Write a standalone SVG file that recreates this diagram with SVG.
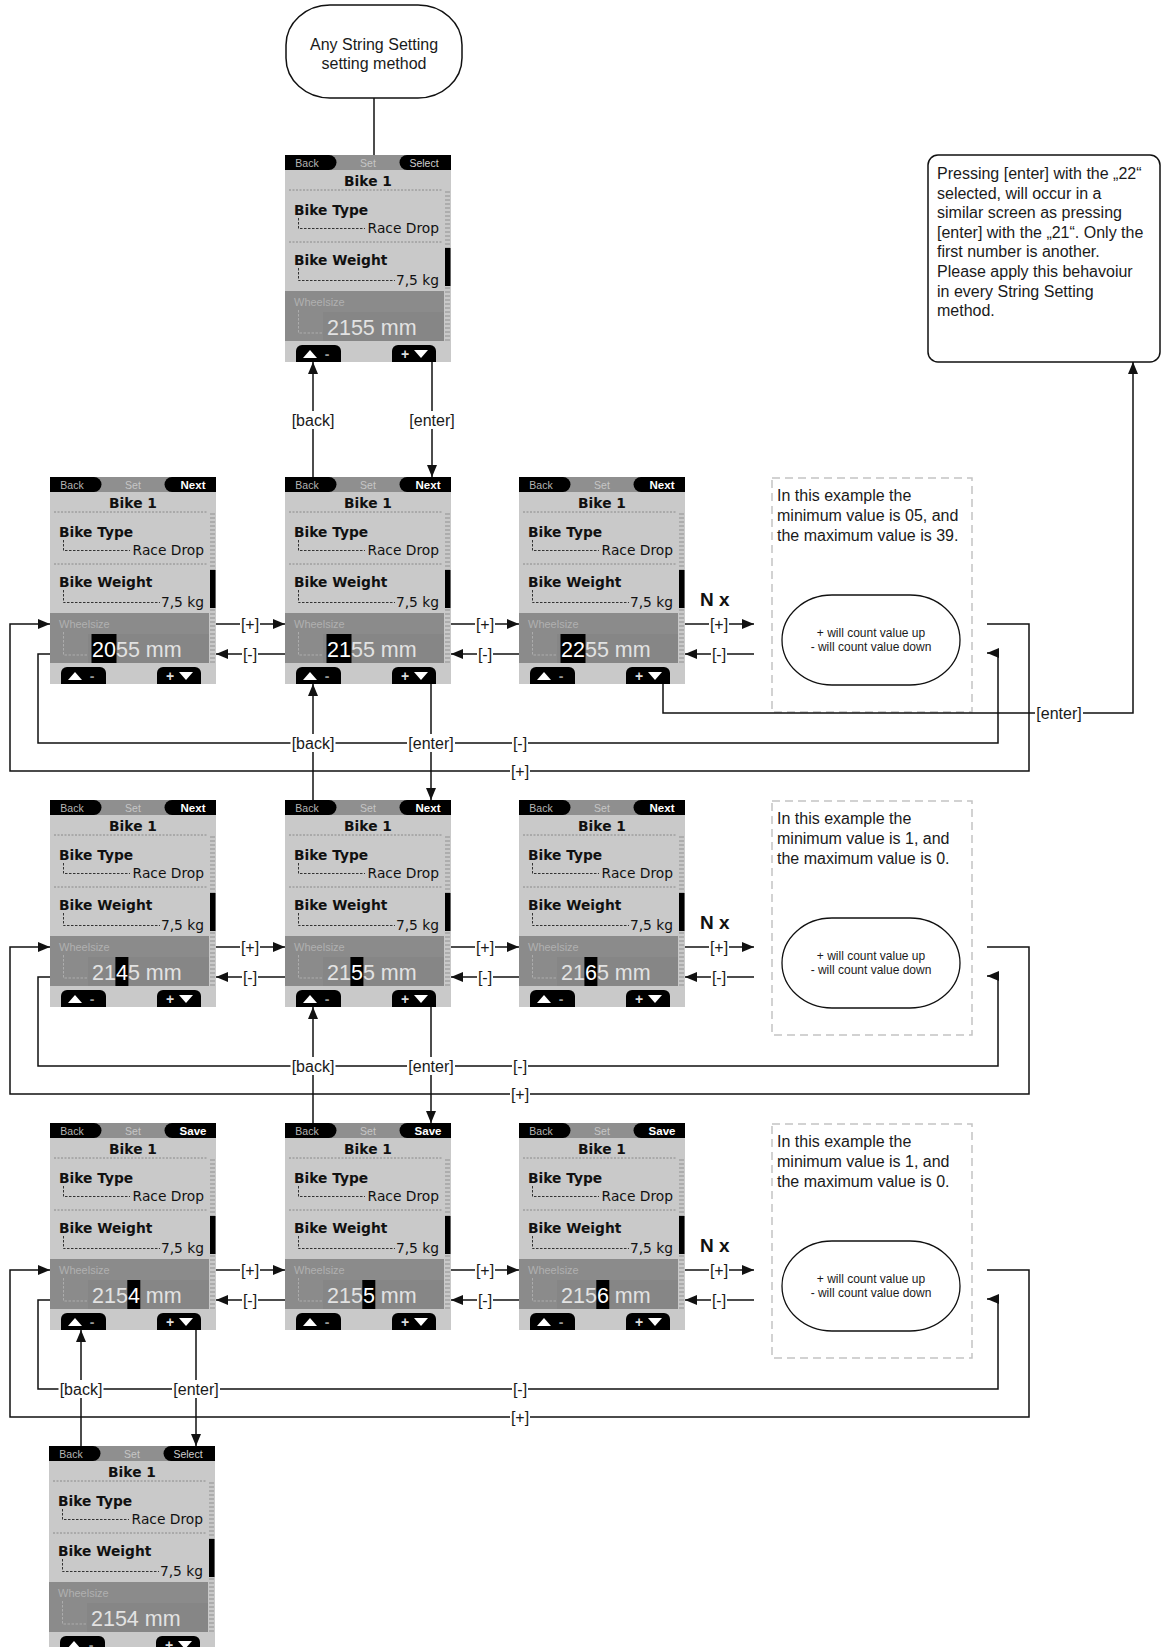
<svg xmlns="http://www.w3.org/2000/svg" width="1162" height="1647" viewBox="0 0 1162 1647">
<style>
.ln{fill:none;stroke:#111;stroke-width:1.5}
.lbl{font-family:"Liberation Sans",Arial,sans-serif;font-size:16px;fill:#1a1a1a;text-anchor:middle}
.lbg{fill:#fff}
.txt{font-family:"Liberation Sans",Arial,sans-serif;font-size:16px;fill:#1a1a1a}
.sb{font-family:"DejaVu Sans",sans-serif;font-weight:bold;font-size:13.8px;fill:#111}
.sr{font-family:"DejaVu Sans",sans-serif;font-size:13.8px;fill:#111}
.val{font-family:"Liberation Sans",Arial,sans-serif;font-size:21.5px;fill:#e2e2e2}
.tab{font-family:"Liberation Sans",Arial,sans-serif;font-size:10.5px;fill:#b5b5b5;text-anchor:middle}
.tabb{font-family:"Liberation Sans",Arial,sans-serif;font-size:11.5px;font-weight:bold;fill:#fff;text-anchor:middle}
.tabs{font-family:"Liberation Sans",Arial,sans-serif;font-size:10.5px;fill:#cfcfcf;text-anchor:middle}
.nx{font-family:"Liberation Sans",Arial,sans-serif;font-size:19px;font-weight:bold;fill:#111}
.pill{font-family:"Liberation Sans",Arial,sans-serif;font-size:12px;fill:#1a1a1a;text-anchor:middle}
.dbox{fill:none;stroke:#c4c4c4;stroke-width:1.5;stroke-dasharray:8 5}
.sep{stroke:#8a8a8a;stroke-width:1;stroke-dasharray:2 1.5}
.lc{fill:none;stroke:#333;stroke-width:1;stroke-dasharray:2.5 1.5}
.hl{fill:#000}
</style>
<defs>
<marker id="ah" viewBox="0 0 12 10" refX="12" refY="5" markerWidth="12" markerHeight="10" markerUnits="userSpaceOnUse" orient="auto"><path d="M0,0L12,5L0,10Z" fill="#111"/></marker>
<g id="scr">
<rect width="166" height="207" fill="#c9c9c9"/>
<rect width="166" height="15" fill="#8f8f8f"/>
<path d="M0,0H44a7.5,7.5 0 0 1 0,15H0Z" fill="#000"/>
<path d="M166,0H122a7.5,7.5 0 0 0 0,15H166Z" fill="#000"/>
<text class="tab" x="22" y="11.5">Back</text>
<text class="tab" x="83" y="11.5" style="fill:#c6c6c6">Set</text>
<text class="sb" x="83" y="31" text-anchor="middle">Bike 1</text>
<line class="sep" x1="4" y1="35" x2="158" y2="35"/>
<text class="sb" x="9" y="60">Bike Type</text>
<path class="lc" d="M13.5,63V73.5H80"/>
<text class="sr" x="154" y="78" text-anchor="end">Race Drop</text>
<line class="sep" x1="4" y1="87" x2="158" y2="87"/>
<text class="sb" x="9" y="110">Bike Weight</text>
<path class="lc" d="M13.5,113V125.5H110"/>
<text class="sr" x="154" y="130" text-anchor="end">7,5 kg</text>
<line x1="162.5" y1="36" x2="162.5" y2="186" stroke="#adadad" stroke-width="5" stroke-dasharray="2 2"/>
<rect x="160" y="93" width="5.5" height="38" fill="#000"/>
<rect x="0" y="136" width="159" height="50" fill="#8b8b8b"/>
<rect x="38" y="157" width="121" height="29" fill="#868686"/>
<text x="9" y="151" font-family="Liberation Sans,Arial,sans-serif" font-size="11" fill="#b0b0b0">Wheelsize</text>
<path d="M13.5,155V178H38" fill="none" stroke="#b0b0b0" stroke-width="0.9" stroke-dasharray="2.5 1.5"/>
<path d="M11,207V196a6,6 0 0 1 6,-6H50a6,6 0 0 1 6,6V207Z" fill="#000"/>
<polygon points="18,203 25,195 32,203" fill="#fff"/>
<text x="42" y="204" font-family="Liberation Sans,Arial,sans-serif" font-size="14" font-weight="bold" fill="#999" text-anchor="middle">-</text>
<path d="M107,207V196a6,6 0 0 1 6,-6H145a6,6 0 0 1 6,6V207Z" fill="#000"/>
<text x="120" y="204" font-family="Liberation Sans,Arial,sans-serif" font-size="14" font-weight="bold" fill="#ddd" text-anchor="middle">+</text>
<polygon points="129,195 143,195 136,203" fill="#fff"/>
</g>
</defs>
<rect width="1162" height="1647" fill="#fff"/>

<g id="start">
<rect x="286" y="5" width="176" height="93" rx="44" ry="40" fill="#fff" stroke="#111" stroke-width="1.5"/>
<text class="txt" x="374" y="50" text-anchor="middle">Any String Setting</text>
<text class="txt" x="374" y="69" text-anchor="middle">setting method</text>
</g>

<g id="note">
<rect x="928" y="155" width="232" height="207" rx="10" fill="#fff" stroke="#111" stroke-width="1.5"/>
<text class="txt" x="937" y="179">Pressing [enter] with the „22“</text>
<text class="txt" x="937" y="198.6">selected, will occur in a</text>
<text class="txt" x="937" y="218.2">similar screen as pressing</text>
<text class="txt" x="937" y="237.8">[enter] with the „21“. Only the</text>
<text class="txt" x="937" y="257.4">first number is another.</text>
<text class="txt" x="937" y="277">Please apply this behavoiur</text>
<text class="txt" x="937" y="296.6">in every String Setting</text>
<text class="txt" x="937" y="316.2">method.</text>
</g>

<g id="screen-0" transform="translate(285,155)">
<use href="#scr"/>
<text class="tabs" x="139" y="11.5">Select</text>
<text class="val" x="42" y="180">2155 mm</text>
</g>

<g id="screen-1a" transform="translate(50,477)">
<use href="#scr"/>
<text class="tabb" x="143" y="11.5">Next</text>
<rect class="hl" x="41.5" y="157" width="25" height="29"/>
<text class="val" x="42" y="180"><tspan fill="#fff">20</tspan>55 mm</text>
</g>
<g id="screen-1b" transform="translate(285,477)">
<use href="#scr"/>
<text class="tabb" x="143" y="11.5">Next</text>
<rect class="hl" x="41.5" y="157" width="25" height="29"/>
<text class="val" x="42" y="180"><tspan fill="#fff">21</tspan>55 mm</text>
</g>
<g id="screen-1c" transform="translate(519,477)">
<use href="#scr"/>
<text class="tabb" x="143" y="11.5">Next</text>
<rect class="hl" x="41.5" y="157" width="25" height="29"/>
<text class="val" x="42" y="180"><tspan fill="#fff">22</tspan>55 mm</text>
</g>

<g id="screen-2a" transform="translate(50,800)">
<use href="#scr"/>
<text class="tabb" x="143" y="11.5">Next</text>
<rect class="hl" x="65.4" y="157" width="13" height="29"/>
<text class="val" x="42" y="180">21<tspan fill="#fff">4</tspan>5 mm</text>
</g>
<g id="screen-2b" transform="translate(285,800)">
<use href="#scr"/>
<text class="tabb" x="143" y="11.5">Next</text>
<rect class="hl" x="65.4" y="157" width="13" height="29"/>
<text class="val" x="42" y="180">21<tspan fill="#fff">5</tspan>5 mm</text>
</g>
<g id="screen-2c" transform="translate(519,800)">
<use href="#scr"/>
<text class="tabb" x="143" y="11.5">Next</text>
<rect class="hl" x="65.4" y="157" width="13" height="29"/>
<text class="val" x="42" y="180">21<tspan fill="#fff">6</tspan>5 mm</text>
</g>

<g id="screen-3a" transform="translate(50,1123)">
<use href="#scr"/>
<text class="tabb" x="143" y="11.5">Save</text>
<rect class="hl" x="77.3" y="157" width="13" height="29"/>
<text class="val" x="42" y="180">215<tspan fill="#fff">4</tspan> mm</text>
</g>
<g id="screen-3b" transform="translate(285,1123)">
<use href="#scr"/>
<text class="tabb" x="143" y="11.5">Save</text>
<rect class="hl" x="77.3" y="157" width="13" height="29"/>
<text class="val" x="42" y="180">215<tspan fill="#fff">5</tspan> mm</text>
</g>
<g id="screen-3c" transform="translate(519,1123)">
<use href="#scr"/>
<text class="tabb" x="143" y="11.5">Save</text>
<rect class="hl" x="77.3" y="157" width="13" height="29"/>
<text class="val" x="42" y="180">215<tspan fill="#fff">6</tspan> mm</text>
</g>

<g id="screen-final" transform="translate(49,1446)">
<use href="#scr"/>
<text class="tabs" x="139" y="11.5">Select</text>
<text class="val" x="42" y="180">2154 mm</text>
</g>

<g id="info-1">
<rect class="dbox" x="772" y="478" width="200" height="234"/>
<text class="txt" x="777" y="501">In this example the</text>
<text class="txt" x="777" y="521">minimum value is 05, and</text>
<text class="txt" x="777" y="541">the maximum value is 39.</text>
<rect x="782" y="595" width="178" height="90" rx="50" ry="45" fill="#fff" stroke="#111" stroke-width="1.3"/>
<text class="pill" x="871" y="637">+ will count value up</text>
<text class="pill" x="871" y="651">- will count value down</text>
<text class="nx" x="700" y="606">N x</text>
</g>
<g id="info-2">
<rect class="dbox" x="772" y="801" width="200" height="234"/>
<text class="txt" x="777" y="824">In this example the</text>
<text class="txt" x="777" y="844">minimum value is 1, and</text>
<text class="txt" x="777" y="864">the maximum value is 0.</text>
<rect x="782" y="918" width="178" height="90" rx="50" ry="45" fill="#fff" stroke="#111" stroke-width="1.3"/>
<text class="pill" x="871" y="960">+ will count value up</text>
<text class="pill" x="871" y="974">- will count value down</text>
<text class="nx" x="700" y="929">N x</text>
</g>
<g id="info-3">
<rect class="dbox" x="772" y="1124" width="200" height="234"/>
<text class="txt" x="777" y="1147">In this example the</text>
<text class="txt" x="777" y="1167">minimum value is 1, and</text>
<text class="txt" x="777" y="1187">the maximum value is 0.</text>
<rect x="782" y="1241" width="178" height="90" rx="50" ry="45" fill="#fff" stroke="#111" stroke-width="1.3"/>
<text class="pill" x="871" y="1283">+ will count value up</text>
<text class="pill" x="871" y="1297">- will count value down</text>
<text class="nx" x="700" y="1252">N x</text>
</g>

<g id="connectors">
<path class="ln" d="M374,98V155"/>
<path class="ln" marker-end="url(#ah)" d="M313,477V362"/>
<path class="ln" marker-end="url(#ah)" d="M432,362V477"/>
<path class="ln" marker-end="url(#ah)" d="M663,684V713H1133V362"/>
<!-- row 1 -->
<path class="ln" marker-end="url(#ah)" d="M216,624H285"/>
<path class="ln" marker-end="url(#ah)" d="M285,654H216"/>
<path class="ln" marker-end="url(#ah)" d="M451,624H519"/>
<path class="ln" marker-end="url(#ah)" d="M519,654H451"/>
<path class="ln" marker-end="url(#ah)" d="M685,624H754"/>
<path class="ln" marker-end="url(#ah)" d="M754,654H685"/>
<path class="ln" marker-end="url(#ah)" d="M987,624H1029V771H10V624H50"/>
<path class="ln" marker-end="url(#ah)" d="M50,654H38V743H998V653H987"/>
<path class="ln" marker-end="url(#ah)" d="M313,800V684"/>
<path class="ln" marker-end="url(#ah)" d="M431,684V800"/>
<!-- row 2 -->
<path class="ln" marker-end="url(#ah)" d="M216,947H285"/>
<path class="ln" marker-end="url(#ah)" d="M285,977H216"/>
<path class="ln" marker-end="url(#ah)" d="M451,947H519"/>
<path class="ln" marker-end="url(#ah)" d="M519,977H451"/>
<path class="ln" marker-end="url(#ah)" d="M685,947H754"/>
<path class="ln" marker-end="url(#ah)" d="M754,977H685"/>
<path class="ln" marker-end="url(#ah)" d="M987,947H1029V1094H10V947H50"/>
<path class="ln" marker-end="url(#ah)" d="M50,977H38V1066H998V976H987"/>
<path class="ln" marker-end="url(#ah)" d="M313,1123V1007"/>
<path class="ln" marker-end="url(#ah)" d="M431,1007V1123"/>
<!-- row 3 -->
<path class="ln" marker-end="url(#ah)" d="M216,1270H285"/>
<path class="ln" marker-end="url(#ah)" d="M285,1300H216"/>
<path class="ln" marker-end="url(#ah)" d="M451,1270H519"/>
<path class="ln" marker-end="url(#ah)" d="M519,1300H451"/>
<path class="ln" marker-end="url(#ah)" d="M685,1270H754"/>
<path class="ln" marker-end="url(#ah)" d="M754,1300H685"/>
<path class="ln" marker-end="url(#ah)" d="M987,1270H1029V1417H10V1270H50"/>
<path class="ln" marker-end="url(#ah)" d="M50,1300H38V1389H998V1299H987"/>
<path class="ln" marker-end="url(#ah)" d="M81,1446V1330"/>
<path class="ln" marker-end="url(#ah)" d="M196,1330V1446"/>

<!-- labels -->
<g>
<rect class="lbg" x="290.5" y="411" width="45" height="18"/><text class="lbl" x="313" y="425.5">[back]</text>
<rect class="lbg" x="408" y="411" width="48" height="18"/><text class="lbl" x="432" y="425.5">[enter]</text>
<rect class="lbg" x="1035" y="704" width="48" height="18"/><text class="lbl" x="1059" y="718.5">[enter]</text>

<rect class="lbg" x="240" y="615" width="20" height="18"/><text class="lbl" x="250" y="629.5">[+]</text>
<rect class="lbg" x="242" y="645" width="16" height="18"/><text class="lbl" x="250" y="659.5">[-]</text>
<rect class="lbg" x="475" y="615" width="20" height="18"/><text class="lbl" x="485" y="629.5">[+]</text>
<rect class="lbg" x="477" y="645" width="16" height="18"/><text class="lbl" x="485" y="659.5">[-]</text>
<rect class="lbg" x="709" y="615" width="20" height="18"/><text class="lbl" x="719" y="629.5">[+]</text>
<rect class="lbg" x="711" y="645" width="16" height="18"/><text class="lbl" x="719" y="659.5">[-]</text>
<rect class="lbg" x="512" y="734" width="16" height="18"/><text class="lbl" x="520" y="748.5">[-]</text>
<rect class="lbg" x="510" y="762" width="20" height="18"/><text class="lbl" x="520" y="776.5">[+]</text>
<rect class="lbg" x="290.5" y="734" width="45" height="18"/><text class="lbl" x="313" y="748.5">[back]</text>
<rect class="lbg" x="407" y="734" width="48" height="18"/><text class="lbl" x="431" y="748.5">[enter]</text>

<rect class="lbg" x="240" y="938" width="20" height="18"/><text class="lbl" x="250" y="952.5">[+]</text>
<rect class="lbg" x="242" y="968" width="16" height="18"/><text class="lbl" x="250" y="982.5">[-]</text>
<rect class="lbg" x="475" y="938" width="20" height="18"/><text class="lbl" x="485" y="952.5">[+]</text>
<rect class="lbg" x="477" y="968" width="16" height="18"/><text class="lbl" x="485" y="982.5">[-]</text>
<rect class="lbg" x="709" y="938" width="20" height="18"/><text class="lbl" x="719" y="952.5">[+]</text>
<rect class="lbg" x="711" y="968" width="16" height="18"/><text class="lbl" x="719" y="982.5">[-]</text>
<rect class="lbg" x="512" y="1057" width="16" height="18"/><text class="lbl" x="520" y="1071.5">[-]</text>
<rect class="lbg" x="510" y="1085" width="20" height="18"/><text class="lbl" x="520" y="1099.5">[+]</text>
<rect class="lbg" x="290.5" y="1057" width="45" height="18"/><text class="lbl" x="313" y="1071.5">[back]</text>
<rect class="lbg" x="407" y="1057" width="48" height="18"/><text class="lbl" x="431" y="1071.5">[enter]</text>

<rect class="lbg" x="240" y="1261" width="20" height="18"/><text class="lbl" x="250" y="1275.5">[+]</text>
<rect class="lbg" x="242" y="1291" width="16" height="18"/><text class="lbl" x="250" y="1305.5">[-]</text>
<rect class="lbg" x="475" y="1261" width="20" height="18"/><text class="lbl" x="485" y="1275.5">[+]</text>
<rect class="lbg" x="477" y="1291" width="16" height="18"/><text class="lbl" x="485" y="1305.5">[-]</text>
<rect class="lbg" x="709" y="1261" width="20" height="18"/><text class="lbl" x="719" y="1275.5">[+]</text>
<rect class="lbg" x="711" y="1291" width="16" height="18"/><text class="lbl" x="719" y="1305.5">[-]</text>
<rect class="lbg" x="512" y="1380" width="16" height="18"/><text class="lbl" x="520" y="1394.5">[-]</text>
<rect class="lbg" x="510" y="1408" width="20" height="18"/><text class="lbl" x="520" y="1422.5">[+]</text>
<rect class="lbg" x="58.5" y="1380" width="45" height="18"/><text class="lbl" x="81" y="1394.5">[back]</text>
<rect class="lbg" x="172" y="1380" width="48" height="18"/><text class="lbl" x="196" y="1394.5">[enter]</text>
</g>
</g>
</svg>
